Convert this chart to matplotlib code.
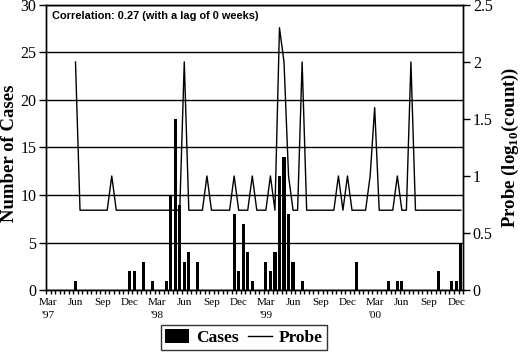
import numpy as np
from matplotlib import pyplot as plt

plt.rcParams['font.family'] = 'Liberation Serif'
plt.rcParams['mathtext.fontset'] = 'custom'
plt.rcParams['mathtext.rm'] = 'Liberation Serif:bold'

# semi-monthly bins, Mar 1997 .. Dec 2000 (92 bins)
cases = [0, 0, 0, 0, 0, 0, 1, 0, 0, 0, 0, 0, 0, 0, 0, 0, 0, 0, 2, 2,
         0, 3, 0, 1, 0, 0, 1, 10, 18, 9, 3, 4, 0, 3, 0, 0, 0, 0, 0, 0,
         0, 8, 2, 7, 4, 1, 0, 0, 3, 2, 4, 12, 14, 8, 3, 0, 1, 0, 0, 0,
         0, 0, 0, 0, 0, 0, 0, 0, 3, 0, 0, 0, 0, 0, 0, 1, 0, 1, 1, 0,
         0, 0, 0, 0, 0, 0, 2, 0, 0, 1, 1, 5]

probe = [None, None, None, None, None, None, 2.0, 0.7, 0.7, 0.7,
         0.7, 0.7, 0.7, 0.7, 1.0, 0.7, 0.7, 0.7, 0.7, 0.7,
         0.7, 0.7, 0.7, 0.7, 0.7, 0.7, 0.7, 0.7, 0.7, 0.7,
         2.0, 0.7, 0.7, 0.7, 0.7, 1.0, 0.7, 0.7, 0.7, 0.7,
         0.7, 1.0, 0.7, 0.7, 0.7, 1.0, 0.7, 0.7, 0.7, 1.0,
         0.7, 2.3, 2.0, 1.0, 0.7, 0.7, 2.0, 0.7, 0.7, 0.7,
         0.7, 0.7, 0.7, 0.7, 1.0, 0.7, 1.0, 0.7, 0.7, 0.7,
         0.7, 1.0, 1.6, 0.7, 0.7, 0.7, 0.7, 1.0, 0.7, 0.7,
         2.0, 0.7, 0.7, 0.7, 0.7, 0.7, 0.7, 0.7, 0.7, 0.7,
         0.7, 0.7]

tick_labels = ["Mar\n'97", "Jun", "Sep", "Dec",
               "Mar\n'98", "Jun", "Sep", "Dec",
               "Mar\n'99", "Jun", "Sep", "Dec",
               "Mar\n'00", "Jun", "Sep", "Dec"]

x = np.arange(len(cases))
p = np.array([np.nan if v is None else v for v in probe], dtype=float)

fig = plt.figure(figsize=(5.2, 3.52), dpi=100)
ax = fig.add_axes([0.0885, 0.176, 0.802, 0.810])
ax2 = ax.twinx()

ax.set_axisbelow(True)
ax.yaxis.grid(True, color='black', linewidth=1)
bars = ax.bar(x, cases, width=0.7, color='black', zorder=2)
ax.set_ylim(0, 30)
ax.set_xlim(-0.5, len(cases) - 0.5)
ax.set_yticks(range(0, 31, 5))
ax.tick_params(axis='y', labelsize=11.5, direction='out', length=5, width=1, pad=2)

ax.set_xticks(np.arange(0, len(cases), 6))
ax.set_xticklabels(tick_labels, fontsize=8, linespacing=1.5)
ax.set_xticks(np.arange(-0.5, len(cases), 1), minor=True)
ax.tick_params(axis='x', which='major', length=0, pad=6)
ax.tick_params(axis='x', which='minor', length=3, width=1, direction='out')

line, = ax2.plot(x, p, color='black', linewidth=1)
ax2.set_ylim(0, 2.5)
ax2.set_yticks([0, 0.5, 1, 1.5, 2, 2.5])
ax2.set_yticklabels(['0', '0.5', '1', '1.5', '2', '2.5'])
ax2.tick_params(axis='y', labelsize=11.5, direction='out', length=5, width=1, pad=2)

for a in (ax, ax2):
    for s in a.spines.values():
        s.set_linewidth(1)

ax.set_ylabel('Number of Cases', fontsize=13.5, fontweight='bold')
ax.yaxis.set_label_coords(-0.068, 0.48)
ax2.set_ylabel(r'Probe (log$_{10}$(count))', fontsize=13.5, fontweight='bold', labelpad=5)

ax.text(0.015, 0.96, 'Correlation: 0.27 (with a lag of 0 weeks)',
        transform=ax.transAxes, family='Liberation Sans', fontweight='bold',
        fontsize=7.9, va='center', ha='left')

leg = fig.legend([bars, line], ['Cases', 'Probe'], loc='lower center',
                 bbox_to_anchor=(0.469, 0.0), ncol=2, frameon=True,
                 fancybox=False, edgecolor='black', handlelength=1.4,
                 handleheight=0.8, handletextpad=0.4, columnspacing=0.5,
                 borderpad=0.25, borderaxespad=0.1,
                 prop={'family': 'Liberation Serif', 'weight': 'bold', 'size': 12.5})
leg.get_frame().set_linewidth(1)

fig.savefig('out.png', dpi=100)
